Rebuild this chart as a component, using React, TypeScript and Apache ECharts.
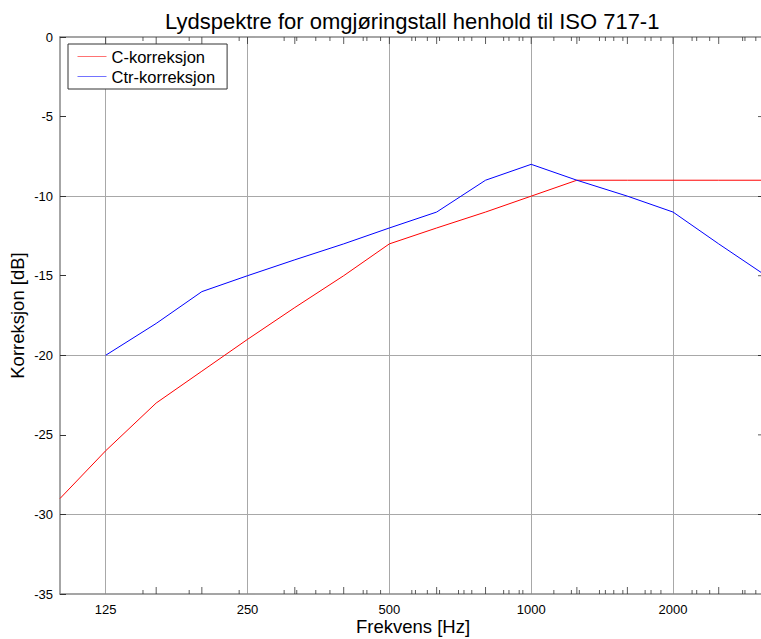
import React, { useEffect, useRef } from "react";
import * as echarts from "echarts";

// Third-octave band centre frequencies (Hz)
const cFreqs = [100, 125, 160, 200, 250, 315, 400, 500, 630, 800, 1000, 1250, 1600, 2000, 2500, 3150];
// C spectrum (dB)
const cValues = [-29, -26, -23, -21, -19, -17, -15, -13, -12, -11, -10, -9, -9, -9, -9, -9];
// Ctr spectrum starts at 125 Hz
const ctrFreqs = [125, 160, 200, 250, 315, 400, 500, 630, 800, 1000, 1250, 1600, 2000, 2500, 3150];
const ctrValues = [-20, -18, -16, -15, -14, -13, -12, -11, -9, -8, -9, -10, -11, -13, -15];

// Axis ticks
const xLabelFreqs = [125, 250, 500, 1000, 2000];
const xThirdOctaveTicks = [160, 200, 315, 400, 630, 800, 1250, 1600, 2500];
const xSmallTicks = [150, 188, 240, 299, 318, 349, 374, 440, 448, 479, 558, 568, 602, 639, 701, 720, 748, 874, 897, 943, 960, 1117, 1217, 1265, 1396, 1437, 1497, 1565, 1745, 1796, 1885, 2195, 2245, 2392, 2810, 2842, 2997];
const yLabels = [-35, -30, -25, -20, -15, -10, -5, 0];
const yGridValues = [-30, -20, -10];
const yMinorTicks = [-25, -15, -5];

const FREQ_MIN = 100;
const FREQ_MAX = 3150;
const Y_MIN = -35;
const Y_MAX = 0;
const FONT = "'Liberation Sans', Arial, sans-serif";
const TICK_COLOR = "#333";
const AXIS_COLOR = "#888";
const GRID_COLOR = "#a8a8a8";

const lg = (f: number) => Math.log10(f);

// Short tick marks drawn as thin rectangles pinned to a plot edge
const tickSeries = (
  points: number[][],
  size: number[],
  offset: (string | number)[]
) => ({
  type: "scatter",
  silent: true,
  clip: false,
  symbol: "rect",
  symbolSize: size,
  symbolOffset: offset,
  itemStyle: { color: TICK_COLOR },
  z: 3,
  data: points,
});

export default function App() {
  const ref = useRef<HTMLDivElement>(null);

  useEffect(() => {
    if (!ref.current) return;
    const chart = echarts.init(ref.current, null, { renderer: "svg" });

    const xMin = lg(FREQ_MIN);
    const xMax = lg(FREQ_MAX);

    chart.setOption({
      animation: false,
      backgroundColor: "#fff",
      textStyle: { fontFamily: FONT },
      title: {
        text: "Lydspektre for omgjøringstall henhold til ISO 717-1",
        left: 160,
        top: 5,
        textStyle: { fontFamily: FONT, fontSize: 22, fontWeight: "normal", color: "#000" },
      },
      legend: {
        left: 68,
        top: 44,
        orient: "vertical",
        backgroundColor: "#fff",
        borderColor: "#333",
        borderWidth: 1,
        borderRadius: 0,
        padding: [4, 12, 4, 9],
        itemWidth: 29,
        itemHeight: 14,
        itemGap: 3,
        itemStyle: { opacity: 0 },
        lineStyle: { width: 1, opacity: 0.55 },
        textStyle: { fontFamily: FONT, fontSize: 16.5, color: "#000" },
        data: ["C-korreksjon", "Ctr-korreksjon"],
      },
      // the plot runs a few pixels past the right edge of the canvas
      grid: {
        left: 60,
        top: 37,
        width: 706,
        height: 557,
        containLabel: false,
        outerBoundsMode: "none",
      },
      xAxis: [
        {
          type: "value",
          position: "bottom",
          min: xMin,
          max: xMax,
          name: "Frekvens [Hz]",
          nameLocation: "middle",
          nameGap: 23,
          nameMoveOverlap: false,
          nameTextStyle: { fontFamily: FONT, fontSize: 18.5, color: "#000", verticalAlign: "top" },
          axisLine: { show: true, onZero: false, lineStyle: { color: AXIS_COLOR, width: 1.5 } },
          axisTick: { show: false, customValues: xLabelFreqs.map(lg) },
          axisLabel: {
            customValues: xLabelFreqs.map(lg),
            formatter: (v: number) => String(Math.round(Math.pow(10, v))),
            color: "#000",
            fontSize: 13,
            fontFamily: FONT,
            margin: 9,
          },
          splitLine: { show: true, lineStyle: { color: GRID_COLOR, width: 1 } },
        },
        {
          type: "value",
          position: "top",
          min: xMin,
          max: xMax,
          axisLine: { show: true, onZero: false, lineStyle: { color: AXIS_COLOR, width: 1.5 } },
          axisTick: { show: false },
          axisLabel: { show: false },
          splitLine: { show: false },
        },
      ],
      yAxis: [
        {
          type: "value",
          position: "left",
          min: Y_MIN,
          max: Y_MAX,
          name: "Korreksjon [dB]",
          nameLocation: "middle",
          nameGap: 33,
          nameMoveOverlap: false,
          nameTextStyle: { fontFamily: FONT, fontSize: 18.5, color: "#000" },
          axisLine: { show: true, onZero: false, lineStyle: { color: AXIS_COLOR, width: 1.5 } },
          axisTick: {
            show: true,
            inside: true,
            length: 6,
            customValues: yLabels,
            lineStyle: { color: TICK_COLOR },
          },
          axisLabel: {
            customValues: yLabels,
            color: "#000",
            fontSize: 13,
            fontFamily: FONT,
            margin: 7,
          },
          splitLine: { show: false },
        },
        {
          type: "value",
          position: "right",
          min: Y_MIN,
          max: Y_MAX,
          axisLine: { show: false },
          axisLabel: { show: false },
          axisTick: {
            show: true,
            inside: true,
            length: 8,
            customValues: yGridValues,
            lineStyle: { color: TICK_COLOR },
          },
          splitLine: { show: true, lineStyle: { color: GRID_COLOR, width: 1 } },
        },
      ],
      series: [
        // minor frequency ticks along the bottom and top edges
        tickSeries(xThirdOctaveTicks.map((f) => [lg(f), Y_MIN]), [1, 7], [0, "-50%"]),
        tickSeries(xSmallTicks.map((f) => [lg(f), Y_MIN]), [1, 4], [0, "-50%"]),
        tickSeries(
          [...xLabelFreqs, ...xThirdOctaveTicks].map((f) => [lg(f), Y_MAX]),
          [1, 7],
          [0, "50%"]
        ),
        tickSeries(xSmallTicks.map((f) => [lg(f), Y_MAX]), [1, 4], [0, "50%"]),
        // remaining ticks on the right edge
        tickSeries(yMinorTicks.map((v) => [xMax, v]), [8, 1], ["-50%", 0]),
        {
          name: "C-korreksjon",
          type: "line",
          symbol: "none",
          color: "#ff0000",
          lineStyle: { color: "#ff0000", width: 1 },
          z: 4,
          data: cFreqs.map((f, i) => [lg(f), cValues[i]]),
        },
        {
          name: "Ctr-korreksjon",
          type: "line",
          symbol: "none",
          color: "#0000ff",
          lineStyle: { color: "#0000ff", width: 1 },
          z: 4,
          data: ctrFreqs.map((f, i) => [lg(f), ctrValues[i]]),
        },
      ],
    });

    return () => chart.dispose();
  }, []);

  return (
    <div
      ref={ref}
      style={{ position: "absolute", left: 0, top: 0, width: 761, height: 639 }}
    />
  );
}
